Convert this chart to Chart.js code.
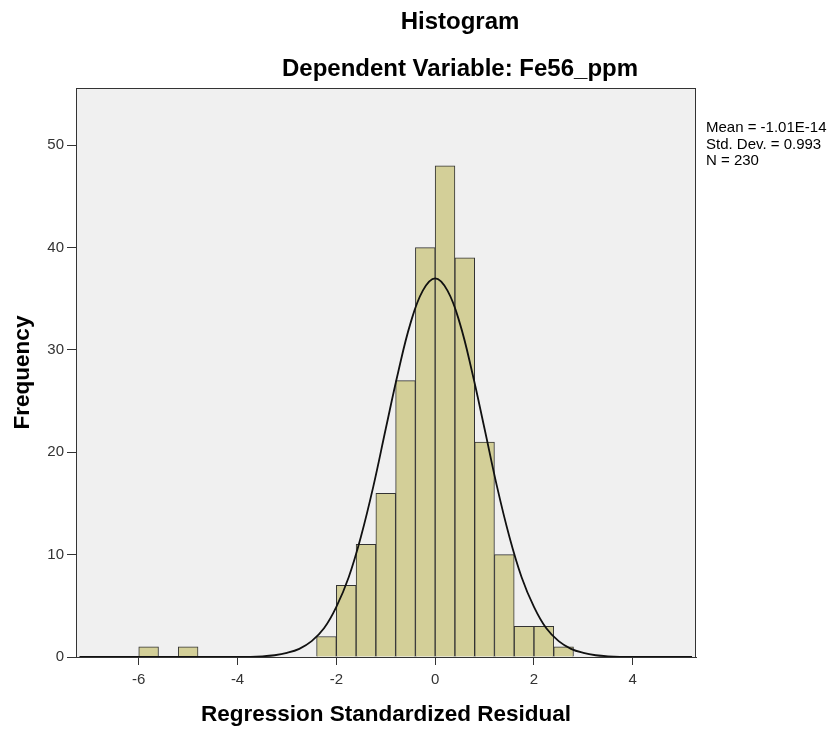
<!DOCTYPE html>
<html>
<head>
<meta charset="utf-8">
<script src="https://cdn.jsdelivr.net/npm/chart.js@4.4.1/dist/chart.umd.min.js"></script>
<style>
  html, body { margin: 0; padding: 0; background: #fff; }
  #wrap { width: 837px; height: 734px; }
</style>
</head>
<body>
<div id="wrap"><canvas id="hist-chart" width="837" height="734"></canvas></div>
<script>
// bin centres (width 0.4) and counts of the standardized residuals
const binCenters = [-5.8, -5.0, -2.2, -1.8, -1.4, -1.0, -0.6, -0.2, 0.2, 0.6, 1.0, 1.4, 1.8, 2.2, 2.6];
const binCounts = [1, 1, 2, 7, 11, 16, 27, 40, 48, 39, 21, 10, 3, 3, 1];

// normal curve read along the x axis
const curveX = [-7.2, -4.5, -4, -3.5, -3.25, -3, -2.75, -2.5, -2.25, -2, -1.75, -1.5, -1.25, -1, -0.75, -0.5, -0.25, 0,
  0.25, 0.5, 0.75, 1, 1.25, 1.5, 1.75, 2, 2.25, 2.5, 2.75, 3, 3.25, 3.5, 4, 4.5, 5.2];
const curveY = [0, 0, 0, 0.07, 0.17, 0.4, 0.8, 1.55, 2.8, 4.9, 7.8, 11.8, 16.7, 22.3, 27.8, 32.6, 35.8, 37,
  35.8, 32.6, 27.8, 22.3, 16.7, 11.8, 7.8, 4.9, 2.8, 1.55, 0.8, 0.4, 0.17, 0.07, 0, 0, 0];

const xTicks = [-6, -4, -2, 0, 2, 4];
const yTicks = [0, 10, 20, 30, 40, 50];

const titleText = "Histogram";
const subtitleText = "Dependent Variable: Fe56_ppm";
const statsLines = ["Mean = -1.01E-14", "Std. Dev. = 0.993", "N = 230"];

const fontFamily = "'Liberation Sans', Arial, sans-serif";

// grey plot box, frame and the header / stats text
const framePlugin = {
  id: "frame",
  beforeDatasetsDraw(chart) {
    const { ctx, chartArea: a } = chart;
    ctx.save();
    ctx.fillStyle = "#f0f0f0";
    ctx.fillRect(a.left, a.top, a.right - a.left, a.bottom - a.top);
    ctx.restore();
  },
  afterDraw(chart) {
    const { ctx, chartArea: a } = chart;
    ctx.save();
    ctx.strokeStyle = "#333";
    ctx.lineWidth = 1;
    ctx.strokeRect(a.left + 0.5, a.top + 0.5, a.right - a.left - 1, a.bottom - a.top);

    ctx.fillStyle = "#000";
    ctx.textAlign = "center";
    ctx.textBaseline = "middle";
    ctx.font = "bold 24px " + fontFamily;
    ctx.fillText(titleText, 460, 22);
    ctx.fillText(subtitleText, 460, 69);

    ctx.textAlign = "left";
    ctx.font = "15px " + fontFamily;
    statsLines.forEach((line, i) => {
      ctx.fillText(line, a.right + 10, 128 + i * 16.5);
    });
    ctx.restore();
  }
};

function initChart() {
  const ctx = document.getElementById("hist-chart").getContext("2d");

  new Chart(ctx, {
    data: {
      datasets: [
        {
          type: "line",
          label: "Normal",
          data: curveX.map((x, i) => ({ x: x, y: curveY[i] })),
          borderColor: "#111",
          borderWidth: 1.8,
          pointRadius: 0,
          tension: 0.4,
          fill: false
        },
        {
          type: "bar",
          label: "Frequency",
          data: binCenters.map((x, i) => ({ x: x, y: binCounts[i] })),
          backgroundColor: "#d3cf98",
          borderColor: "#333",
          borderWidth: 1,
          barPercentage: 1,
          categoryPercentage: 1,
          grouped: false
        }
      ]
    },
    options: {
      responsive: false,
      animation: false,
      layout: {
        padding: { top: 88, right: 141, bottom: 0, left: 0 }
      },
      plugins: {
        legend: { display: false },
        tooltip: { enabled: false }
      },
      scales: {
        x: {
          type: "linear",
          offset: false,
          min: -7.27,
          max: 5.28,
          afterBuildTicks: (scale) => {
            scale.ticks = xTicks.map((v) => ({ value: v }));
          },
          afterFit: (scale) => { scale.height = 77; },
          grid: { offset: false, drawOnChartArea: false, tickLength: 8, color: "#333" },
          border: { color: "#333" },
          ticks: {
            color: "#333",
            font: { family: fontFamily, size: 15 },
            padding: 6,
            maxRotation: 0
          },
          title: {
            display: true,
            text: "Regression Standardized Residual",
            color: "#000",
            font: { family: fontFamily, size: 22.5, weight: "bold" },
            padding: { top: 8, bottom: 6 }
          }
        },
        y: {
          min: 0,
          max: 55.6,
          afterBuildTicks: (scale) => {
            scale.ticks = yTicks.map((v) => ({ value: v }));
          },
          afterFit: (scale) => { scale.width = 76; },
          grid: { drawOnChartArea: false, tickLength: 9, color: "#333" },
          border: { color: "#333" },
          ticks: {
            color: "#333",
            font: { family: fontFamily, size: 15 },
            padding: 3
          },
          title: {
            display: true,
            text: "Frequency",
            color: "#000",
            font: { family: fontFamily, size: 22.5, weight: "bold" },
            padding: { top: 9, bottom: 0 }
          }
        }
      }
    },
    plugins: [framePlugin]
  });
}

initChart();
</script>
</body>
</html>
